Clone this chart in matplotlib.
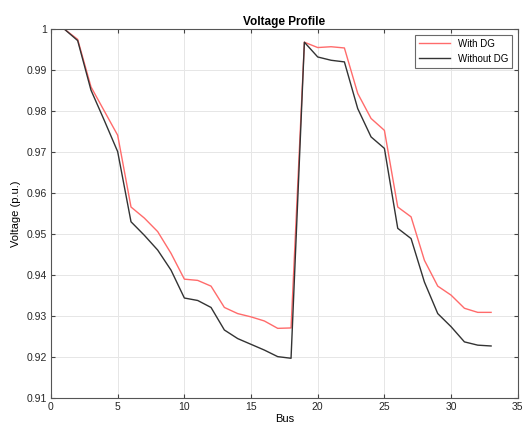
import matplotlib
matplotlib.use("Agg")
import matplotlib.pyplot as plt
import numpy as np

# bus numbers and voltage magnitudes (p.u.)
bus = np.arange(1, 34)
v_with_dg = [1.0000, 0.9975, 0.9859, 0.9800, 0.9741, 0.9566, 0.9539, 0.9506, 0.9453, 0.9390,
             0.9387, 0.9373, 0.9321, 0.9306, 0.9298, 0.9288, 0.9270, 0.9271, 0.9968, 0.9955,
             0.9957, 0.9954, 0.9843, 0.9782, 0.9753, 0.9566, 0.9542, 0.9436, 0.9373, 0.9351,
             0.9319, 0.9309, 0.9309]
v_without_dg = [1.0000, 0.9972, 0.9851, 0.9777, 0.9701, 0.9530, 0.9497, 0.9461, 0.9412, 0.9344,
                0.9338, 0.9321, 0.9266, 0.9245, 0.9231, 0.9217, 0.9201, 0.9197, 0.9968, 0.9932,
                0.9924, 0.9920, 0.9806, 0.9737, 0.9709, 0.9514, 0.9489, 0.9383, 0.9306, 0.9274,
                0.9237, 0.9229, 0.9227]

plt.rcParams['font.family'] = ['Liberation Sans', 'DejaVu Sans']

fig = plt.figure(figsize=(5.23, 4.28), dpi=100)
ax = fig.add_axes([0.0975, 0.07, 0.8925, 0.862])

ax.plot(bus, v_with_dg, color='#ff6b6b', lw=1.0, label='With DG')
ax.plot(bus, v_without_dg, color='#333333', lw=1.0, label='Without DG')

ax.set_xlim(0, 35)
ax.set_ylim(0.91, 1.0)
ax.set_xticks(np.arange(0, 36, 5))
yt = np.round(np.arange(0.91, 1.0001, 0.01), 2)
ax.set_yticks(yt)
ax.set_yticklabels(['1' if v == 1 else f'{v:.2f}' for v in yt])
ax.grid(True, color='#e6e6e6', lw=0.7)
ax.set_axisbelow(True)
ax.tick_params(direction='in', top=True, right=True, labelsize=7.5, length=3,
               color='#444444', labelcolor='#262626', pad=3)
for s in ax.spines.values():
    s.set_color('#555555')
    s.set_linewidth(0.8)

ax.set_title('Voltage Profile', fontsize=8.5, fontweight='bold', pad=3)
ax.set_xlabel('Bus', fontsize=8, labelpad=1)
ax.set_ylabel('Voltage (p.u.)', fontsize=8, labelpad=4)
leg = ax.legend(loc='upper right', fontsize=7, frameon=True, fancybox=False,
                edgecolor='#444444', handlelength=3.2, borderaxespad=0.6)
leg.get_frame().set_linewidth(0.8)

fig.savefig('out.png', dpi=100)
